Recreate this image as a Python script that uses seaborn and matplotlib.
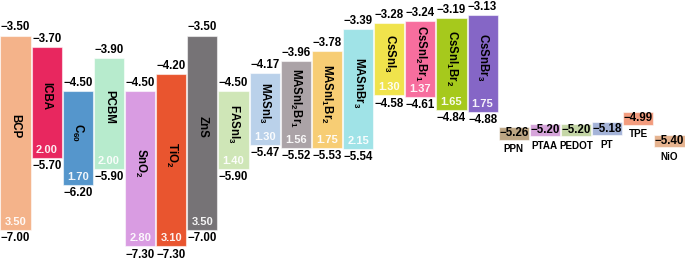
import matplotlib

matplotlib.use("Agg")

import matplotlib.pyplot as plt
import pandas as pd
import seaborn as sns

# transport layers and absorbers with both band edges (eV)
materials = [
    "BCP", "ICBA", "C$_{60}$", "PCBM", "SnO$_{2}$", "TiO$_{2}$", "ZnS",
    "FASnI$_{3}$", "MASnI$_{3}$", "MASnI$_{2}$Br$_{1}$", "MASnI$_{1}$Br$_{2}$",
    "MASnBr$_{3}$", "CsSnI$_{3}$", "CsSnI$_{2}$Br$_{1}$", "CsSnI$_{1}$Br$_{2}$",
    "CsSnBr$_{3}$",
]
lumo = [-3.50, -3.70, -4.50, -3.90, -4.50, -4.20, -3.50,
        -4.50, -4.17, -3.96, -3.78, -3.39, -3.28, -3.24, -3.19, -3.13]
homo = [-7.00, -5.70, -6.20, -5.90, -7.30, -7.30, -7.00,
        -5.90, -5.47, -5.52, -5.53, -5.54, -4.58, -4.61, -4.84, -4.88]
gaps = [3.50, 2.00, 1.70, 2.00, 2.80, 3.10, 3.50,
        1.40, 1.30, 1.56, 1.75, 2.15, 1.30, 1.37, 1.65, 1.75]

# hole transport materials, HOMO only (eV)
htl_names = ["PPN", "PTAA", "PEDOT", "PT", "TPE", "NiO"]
htl_homo = [-5.26, -5.20, -5.20, -5.18, -4.99, -5.40]

colors = [
    "#F4B38A", "#E8275F", "#5596CC", "#B7EBCD", "#D99CE2", "#E9552F", "#767376",
    "#CFE6B7", "#BAD1EA", "#ABA3A7", "#F7CD74", "#A0E3E7", "#F0E34C", "#F76E9E",
    "#A6C91C", "#8566C6",
    "#BCA583", "#D6A4DA", "#C4D6A6", "#A4B3D8", "#F39C7E", "#E6B38F",
]

box_half = 0.115


def fmt(v):
    return f"{v:.2f}".replace("-", "\u2212")


tops = lumo + [v + box_half for v in htl_homo]
bottoms = homo + [v - box_half for v in htl_homo]
frame = pd.DataFrame({
    "name": materials + htl_names,
    "top": tops,
    "bottom": bottoms,
})
frame["span"] = frame["top"] - frame["bottom"]

sns.set_theme(style="white")
plt.rcParams["font.family"] = ["Liberation Sans", "DejaVu Sans"]
plt.rcParams["mathtext.fontset"] = "custom"
plt.rcParams["mathtext.rm"] = "Liberation Sans:bold"
plt.rcParams["mathtext.it"] = "Liberation Sans:bold"
plt.rcParams["mathtext.bf"] = "Liberation Sans:bold"

fig = plt.figure(figsize=(6.85, 2.62), dpi=100)
ax = fig.add_axes([0, 0, 1, 1])

sns.barplot(
    data=frame,
    x="name",
    y="span",
    bottom=frame["bottom"].to_numpy(),
    width=0.97,
    color="grey",
    saturation=1,
    errorbar=None,
    ax=ax,
)
for patch, color in zip(ax.patches, colors):
    patch.set_facecolor(color)
    patch.set_edgecolor((1, 1, 1, 0.55))
    patch.set_linewidth(0.8)

ax.set_xlim(-0.5, len(frame) - 0.5)
ax.set_ylim(-7.58, -2.86)
ax.axis("off")

bold = dict(fontsize=8.3, fontweight="bold", color="black")

for i, name in enumerate(materials):
    top, bot = lumo[i], homo[i]
    ax.annotate(fmt(top), (i, top), xytext=(0, 1.5), textcoords="offset points",
                ha="center", va="bottom", **bold)
    ax.annotate(fmt(bot), (i, bot), xytext=(0, -1.5), textcoords="offset points",
                ha="center", va="top", **bold)
    ax.annotate(f"{gaps[i]:.2f}", (i, bot), xytext=(0, 2.2),
                textcoords="offset points", ha="center", va="bottom",
                fontsize=8, fontweight="bold", color="white", alpha=0.92)
    ax.text(i, (top + bot + 0.22) / 2, name, rotation=-90, ha="center",
            va="center", **bold)

for j, name in enumerate(htl_names):
    i = len(materials) + j
    v = htl_homo[j]
    ax.text(i, v, fmt(v), ha="center", va="center", **bold)
    ax.annotate(name, (i, v - box_half), xytext=(0, -3.5),
                textcoords="offset points", ha="center", va="top",
                fontsize=7.1, fontweight="bold", color="black")

fig.savefig("out.png", dpi=100)
